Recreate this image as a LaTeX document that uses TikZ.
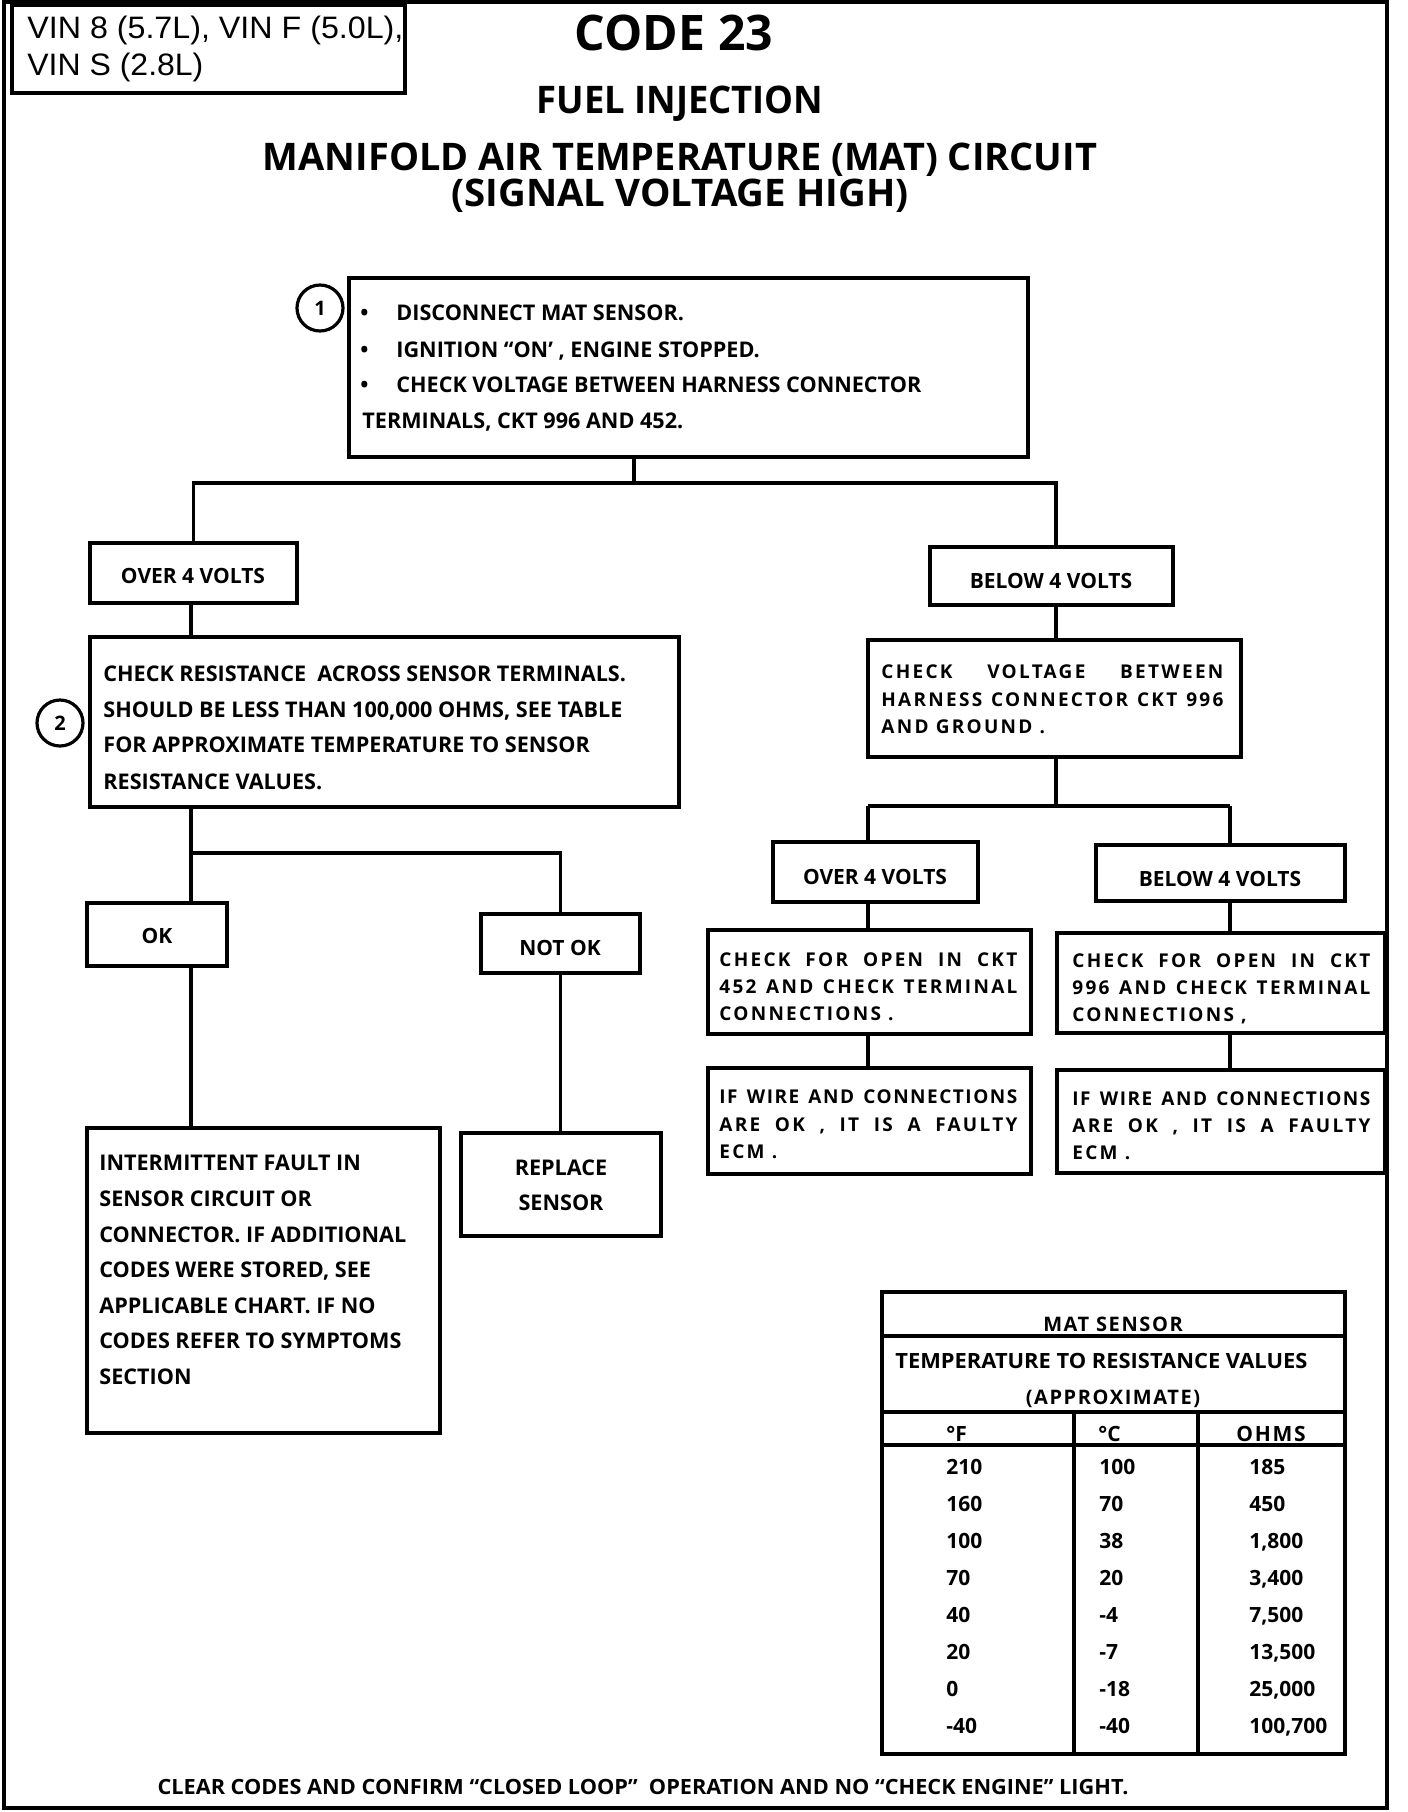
\documentclass[tikz,border=0pt]{standalone}
\usepackage{fontspec}
\usepackage{graphicx}
\setmainfont{Open Sans}
\newfontfamily\arialf{Liberation Sans}
\newfontfamily\spacedf{Open Sans}[LetterSpace=12]
\newfontfamily\spacedg{Open Sans}[LetterSpace=8]
\newcommand{\fitw}[2]{\resizebox{#1}{\height}{#2}}
\usetikzlibrary{fit}
\begin{document}
\begin{tikzpicture}[x=0.5pt,y=-0.5pt,
  box/.style={draw, line width=2.3pt, inner sep=0pt, outer sep=0pt},
  conn/.style={line width=1.9pt},
  tline/.style={line width=1.8pt},
  tl/.style={anchor=base west, inner sep=0pt, font=\bfseries\fontsize{10.8}{12}\selectfont},
  tc/.style={anchor=base, inner sep=0pt, font=\bfseries\fontsize{10.8}{12}\selectfont},
  lbl/.style={anchor=base, inner sep=0pt, font=\bfseries\fontsize{10.5}{12}\selectfont},
  sp/.style={anchor=base west, inner sep=0pt, font=\spacedf\bfseries\fontsize{9.5}{12}\selectfont},
  spg/.style={anchor=base west, inner sep=0pt, font=\spacedg\bfseries\fontsize{9.5}{12}\selectfont},
  tab/.style={anchor=base west, inner sep=0pt, font=\bfseries\fontsize{10.5}{12}\selectfont},
  tabc/.style={anchor=base, inner sep=0pt, font=\spacedg\bfseries\fontsize{10}{12}\selectfont},
  ttl/.style={anchor=base, inner sep=0pt, font=\bfseries\fontsize{19}{22}\selectfont},
  num/.style={draw, circle, line width=1.6pt, minimum size=23pt, inner sep=0pt, font=\bfseries\fontsize{10}{12}\selectfont}
]
\useasboundingbox (0,0) rectangle (1408,1812);
\fill[white] (0,0) rectangle (1408,1812);
% outer border
\draw[line width=1.7pt] (4,2) rectangle (1387,1808);

% VIN box
\node[box, line width=2pt, fit={(12,5) (405,93)}] (vin) {};
\node[anchor=base west, inner sep=0pt, font=\arialf\fontsize{15.5}{18}\selectfont] (vin1) at (27,38) {\fitw{188pt}{VIN 8 (5.7L), VIN F (5.0L),}};
\node[anchor=base west, inner sep=0pt, font=\arialf\fontsize{15.5}{18}\selectfont] (vin2) at (27,75) {\fitw{88pt}{VIN S (2.8L)}};

% titles
\node[anchor=base, inner sep=0pt, font=\bfseries\fontsize{24.5}{28}\selectfont] (code) at (674,50) {\fitw{99pt}{CODE 23}};
\node[ttl] (fuel) at (680,113) {\fitw{143.5pt}{FUEL INJECTION}};
\node[ttl] (mani) at (680,170) {\fitw{417pt}{MANIFOLD AIR TEMPERATURE (MAT) CIRCUIT}};
\node[ttl] (sig) at (680,206) {\fitw{228.5pt}{(SIGNAL VOLTAGE HIGH)}};

% box 1
\node[box, fit={(349,278) (1028,457)}] (b1) {};
\node[num] (c1) at (320,308) {1};
\node[tl] (d1) at (360,320) {\textbullet};
\node[tl] (d2) at (360,357) {\textbullet};
\node[tl] (d3) at (360,392) {\textbullet};
\node[tl] (b1a) at (396,320) {DISCONNECT MAT SENSOR.};
\node[tl] (b1b) at (396,357) {IGNITION “ON’ , ENGINE STOPPED.};
\node[tl] (b1c) at (396,392) {CHECK VOLTAGE BETWEEN HARNESS CONNECTOR};
\node[tl] (b1d) at (362,428) {TERMINALS, CKT 996 AND 452.};

% first split
\node[box, fit={(90,543) (297,603)}] (lover) {};
\node[lbl] (lovert) at (193,583) {OVER 4 VOLTS};
\node[box, fit={(930,547) (1173,605)}] (rbelow) {};
\node[lbl] (rbelowt) at (1051,588) {BELOW 4 VOLTS};
\coordinate (j1) at (634,483);
\draw[conn] (b1.south -| j1) -- (j1);
\draw[conn] (lover.north) |- (j1);
\coordinate (j1r) at (1056,483);
\draw[conn] (j1) -- (j1r) -- (rbelow.north -| j1r);

% left branch
\node[box, fit={(90,637) (679,807)}] (res) {};
\node[num] (c2) at (60,723) {2};
\node[tl] (ra) at (103,681) {CHECK RESISTANCE \ ACROSS SENSOR TERMINALS.};
\node[tl] (rb) at (103,717) {SHOULD BE LESS THAN 100,000 OHMS, SEE TABLE};
\node[tl] (rc) at (103,752) {FOR APPROXIMATE TEMPERATURE TO SENSOR};
\node[tl] (rd) at (103,789) {RESISTANCE VALUES.};
\coordinate (jl) at (191,603);
\draw[conn] (lover.south -| jl) -- (res.north -| jl);

\node[box, fit={(87,903) (227,966)}] (ok) {};
\node[lbl] (okt) at (157,943) {OK};
\node[box, fit={(481,914) (640,973)}] (notok) {};
\node[lbl] (notokt) at (560,955) {NOT OK};
\coordinate (j2) at (191,853);
\draw[conn] (res.south -| j2) -- (ok.north -| j2);
\draw[conn] (j2) -| (notok.north);

\node[box, fit={(87,1128) (440,1433)}] (inter) {};
\node[tl] (ia) at (99,1170) {INTERMITTENT FAULT IN};
\node[tl] (ib) at (99,1206) {SENSOR CIRCUIT OR};
\node[tl] (ic) at (99,1242) {CONNECTOR. IF ADDITIONAL};
\node[tl] (id) at (99,1277) {CODES WERE STORED, SEE};
\node[tl] (ie) at (99,1313) {APPLICABLE CHART. IF NO};
\node[tl] (if) at (99,1348) {CODES REFER TO SYMPTOMS};
\node[tl] (ig) at (99,1384) {SECTION};
\draw[conn] (ok.south -| j2) -- (inter.north -| j2);

\node[box, fit={(461,1133) (661,1236)}] (repl) {};
\node[tc] (rpa) at (561,1175) {REPLACE};
\node[tc] (rpb) at (561,1210) {SENSOR};
\draw[conn] (notok.south) -- (repl.north -| notok.south);

% right branch
\node[box, fit={(868,640) (1241,757)}] (volt) {};
\node[sp] (va) at (881,678) {\makebox[171pt][s]{CHECK VOLTAGE BETWEEN}};
\node[sp] (vb) at (881,706) {\makebox[171pt][s]{HARNESS CONNECTOR CKT 996}};
\node[sp] (vc) at (881,733) {AND GROUND .};
\coordinate (j3) at (1056,806);
\draw[conn] (rbelow.south -| j3) -- (volt.north -| j3);
\draw[conn] (volt.south -| j3) -- (j3);

\coordinate (j4) at (868,806);
\coordinate (j5) at (1230,806);
\draw[conn] (j4) -- (j5);

\node[box, fit={(773,842) (978,902)}] (r1over) {};
\node[lbl] (r1overt) at (875,884) {OVER 4 VOLTS};
\node[box, fit={(1096,845) (1345,901)}] (r2below) {};
\node[lbl] (r2belowt) at (1220,886) {BELOW 4 VOLTS};
\draw[conn] (j4) -- (r1over.north -| j4);
\draw[conn] (j5) -- (r2below.north -| j5);

\node[box, fit={(708,930) (1031,1034)}] (r1open) {};
\node[sp] (o1a) at (719,966) {\makebox[149pt][s]{CHECK FOR OPEN IN CKT}};
\node[sp] (o1b) at (719,993) {\makebox[149pt][s]{452 AND CHECK TERMINAL}};
\node[sp] (o1c) at (719,1020) {CONNECTIONS .};
\node[box, fit={(1057,933) (1385,1033)}] (r2open) {};
\node[sp] (o2a) at (1072,967) {\makebox[149pt][s]{CHECK FOR OPEN IN CKT}};
\node[sp] (o2b) at (1072,994) {\makebox[149pt][s]{996 AND CHECK TERMINAL}};
\node[sp] (o2c) at (1072,1021) {CONNECTIONS ,};
\draw[conn] (r1over.south -| j4) -- (r1open.north -| j4);
\draw[conn] (r2below.south -| j5) -- (r2open.north -| j5);

\node[box, fit={(708,1068) (1031,1174)}] (r1ecm) {};
\node[spg] (e1a) at (719,1103) {\makebox[149pt][s]{IF WIRE AND CONNECTIONS}};
\node[sp] (e1b) at (719,1131) {\makebox[149pt][s]{ARE OK , IT IS A FAULTY}};
\node[sp] (e1c) at (719,1158) {ECM .};
\node[box, fit={(1057,1070) (1385,1173)}] (r2ecm) {};
\node[spg] (e2a) at (1072,1105) {\makebox[149pt][s]{IF WIRE AND CONNECTIONS}};
\node[sp] (e2b) at (1072,1132) {\makebox[149pt][s]{ARE OK , IT IS A FAULTY}};
\node[sp] (e2c) at (1072,1159) {ECM .};
\draw[conn] (r1open.south -| j4) -- (r1ecm.north -| j4);
\draw[conn] (r2open.south -| j5) -- (r2ecm.north -| j5);

% table
\node[box, line width=2.2pt, fit={(882,1292) (1345,1754)}] (tbl) {};
\draw[tline] (882,1336) -- (1345,1336);
\draw[tline] (882,1412) -- (1345,1412);
\draw[tline] (882,1445) -- (1345,1445);
\draw[tline] (1074,1412) -- (1074,1754);
\draw[tline] (1198,1412) -- (1198,1754);
\node[tabc] (tmat) at (1113,1331) {MAT SENSOR};
\node[tab] (ttemp) at (895,1368) {\fitw{206pt}{TEMPERATURE TO RESISTANCE VALUES}};
\node[tabc] (tapp) at (1113,1404) {(APPROXIMATE)};
\node[tab] (hf) at (946,1441) {°F};
\node[tab] (hc) at (1098,1441) {°C};
\node[tab, font=\spacedg\bfseries\fontsize{10.5}{12}\selectfont] (ho) at (1236,1441) {OHMS};
\foreach \f/\c/\o [count=\i from 0] in {210/100/185, 160/70/450, 100/38/{1,800}, 70/20/{3,400}, 40/-4/{7,500}, 20/-7/{13,500}, 0/-18/{25,000}, -40/-40/{100,700}} {
  \node[tab] (f\i) at (946,1474+37.1*\i) {\f};
  \node[tab] (cc\i) at (1099,1474+37.1*\i) {\c};
  \node[tab] (o\i) at (1249,1474+37.1*\i) {\o};
}

% footer
\node[anchor=base, inner sep=0pt, font=\bfseries\fontsize{10.5}{12}\selectfont] (foot) at (643,1794) {\fitw{485.5pt}{CLEAR CODES AND CONFIRM “CLOSED LOOP” \ OPERATION AND NO “CHECK ENGINE” LIGHT.}};
\end{tikzpicture}
\end{document}
